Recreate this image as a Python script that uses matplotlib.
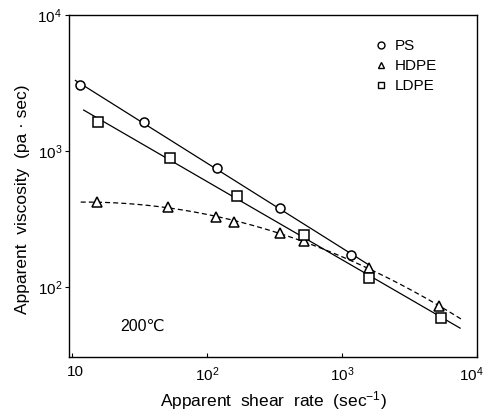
import numpy as np
import matplotlib
matplotlib.use("Agg")
import matplotlib.pyplot as plt
from matplotlib.lines import Line2D
from matplotlib.ticker import FixedLocator, FixedFormatter, NullLocator
from matplotlib.transforms import ScaledTranslation

plt.rcParams['font.family'] = ['Liberation Sans', 'DejaVu Sans']
plt.rcParams['mathtext.fontset'] = 'custom'
plt.rcParams['mathtext.rm'] = 'Liberation Sans'
plt.rcParams['mathtext.it'] = 'Liberation Sans'

# Data (apparent shear rate [1/s], apparent viscosity [Pa s])
ps_rate = [11.5, 34, 118, 345, 1165]
ps_visc = [3050, 1630, 750, 380, 172]

hdpe_rate = [15.2, 51.7, 116, 158, 350, 525, 1585, 5250]
hdpe_visc = [422, 387, 327, 300, 249, 218, 138, 72]

ldpe_rate = [15.5, 53.5, 166, 525, 1585, 5400]
ldpe_visc = [1630, 888, 468, 240, 117, 59]

# Ranges of the fitted lines
ps_line_range = [10.6, 1600]
hdpe_line_range = [11.6, 7600]
ldpe_line_range = [12.2, 7500]

x_ticks = [10, 100, 1000, 10000]
x_ticklabels = ['10', r'10$^{2}$', r'10$^{3}$', r'10$^{4}$']
y_ticks = [100, 1000, 10000]
y_ticklabels = [r'10$^{2}$', r'10$^{3}$', r'10$^{4}$']

fig = plt.figure(figsize=(4.87, 4.11), dpi=100)
ax = fig.add_axes([69/487, 1-357/411, (477-69)/487, (357-15)/411])
ax.set_xscale('log')
ax.set_yscale('log')


def fit_curve(xs, ys, deg, rng):
    lx, ly = np.log10(xs), np.log10(ys)
    c = np.polyfit(lx, ly, deg)
    xx = np.linspace(np.log10(rng[0]), np.log10(rng[1]), 200)
    return 10**xx, 10**np.polyval(c, xx)


lw = 0.9
x, y = fit_curve(ps_rate, ps_visc, 1, ps_line_range)
ax.plot(x, y, color='black', lw=lw, zorder=2)
x, y = fit_curve(ldpe_rate, ldpe_visc, 1, ldpe_line_range)
ax.plot(x, y, color='black', lw=lw, zorder=2)
x, y = fit_curve(hdpe_rate, hdpe_visc, 2, hdpe_line_range)
ax.plot(x, y, color='black', lw=lw, ls=(0, (4, 2.5)), zorder=2)

mk = dict(ls='none', mfc='white', mec='black', mew=1.1, zorder=3)
ax.plot(ps_rate, ps_visc, marker='o', ms=6.5, **mk)
ax.plot(hdpe_rate, hdpe_visc, marker='^', ms=7, **mk)
ax.plot(ldpe_rate, ldpe_visc, marker='s', ms=6.5, **mk)

ax.set_xlim(9.5, 1e4)
ax.set_ylim(30.6, 1e4)

ax.xaxis.set_major_locator(FixedLocator(x_ticks))
ax.xaxis.set_major_formatter(FixedFormatter(x_ticklabels))
ax.xaxis.set_minor_locator(NullLocator())
ax.yaxis.set_major_locator(FixedLocator(y_ticks))
ax.yaxis.set_major_formatter(FixedFormatter(y_ticklabels))
ax.yaxis.set_minor_locator(NullLocator())
ax.tick_params(axis='x', direction='in', length=3, labelsize=11, pad=6)
ax.tick_params(axis='y', direction='out', length=3, labelsize=11, pad=2)

fig.canvas.draw()
xt = ax.xaxis.get_major_ticks()
xt[-1].label1.set_transform(xt[-1].label1.get_transform()
                            + ScaledTranslation(-6/100, 0, fig.dpi_scale_trans))
xt[0].label1.set_transform(xt[0].label1.get_transform()
                           + ScaledTranslation(3/100, 0, fig.dpi_scale_trans))

for s in ax.spines.values():
    s.set_linewidth(1.0)

ax.set_xlabel(r'Apparent  shear  rate  (sec$^{-1}$)', fontsize=12.5, labelpad=4)
ax.set_ylabel('Apparent  viscosity  (pa · sec)', fontsize=12.5)
ax.yaxis.set_label_coords(-0.095, 0.46)

ax.text(0.125, 0.09, '200℃', transform=ax.transAxes, fontsize=11.5,
        ha='left', va='center')

handles = [Line2D([], [], marker='o', ls='none', mfc='white', mec='black', ms=5, mew=1),
           Line2D([], [], marker='^', ls='none', mfc='white', mec='black', ms=5, mew=1),
           Line2D([], [], marker='s', ls='none', mfc='white', mec='black', ms=5, mew=1)]
ax.legend(handles, ['PS', 'HDPE', 'LDPE'], loc='upper left',
          bbox_to_anchor=(0.713, 0.97), frameon=False, fontsize=11,
          handlelength=1.0, handletextpad=0.4, labelspacing=0.4)

fig.savefig('out.png', dpi=100)
